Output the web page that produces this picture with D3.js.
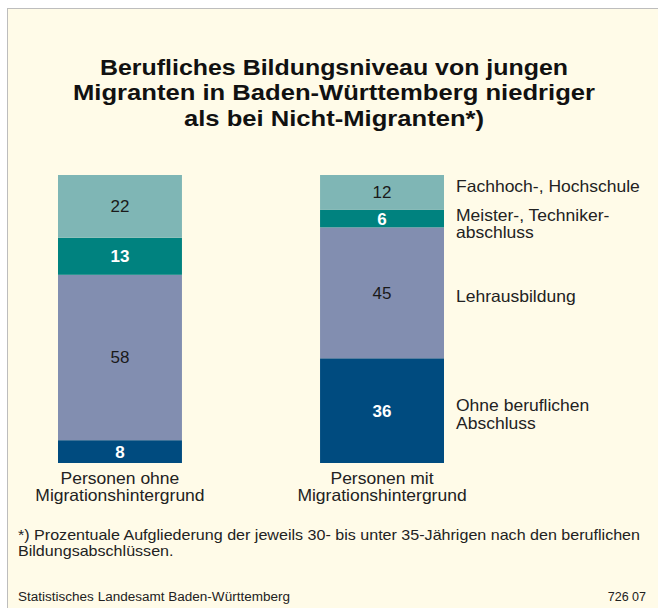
<!DOCTYPE html>
<html>
<head>
<meta charset="utf-8">
<script src="https://cdn.jsdelivr.net/npm/d3@7"></script>
<style>
  html, body { margin: 0; padding: 0; background: #ffffff; }
  svg { display: block; }
  text { font-family: "Liberation Sans", Arial, Helvetica, sans-serif; }
</style>
</head>
<body>
<svg id="chart" width="658" height="608"></svg>
<script>
// ---- data ----
const categories = ["Personen ohne\nMigrationshintergrund", "Personen mit\nMigrationshintergrund"];
const seriesKeys = ["ohne", "lehr", "meister", "fach"]; // bottom to top
const seriesLabels = ["Ohne beruflichen\nAbschluss", "Lehrausbildung", "Meister-, Techniker-\nabschluss", "Fachhoch-, Hochschule"];
const ohneAbschluss = [8, 36];
const lehrausbildung = [58, 45];
const meisterTechniker = [13, 6];
const fachHochschule = [22, 12];
const titleLines = ["Berufliches Bildungsniveau von jungen", "Migranten in Baden-Württemberg niedriger", "als bei Nicht-Migranten*)"];
const footnoteLines = ["*) Prozentuale Aufgliederung der jeweils 30- bis unter 35-Jährigen nach den beruflichen", "Bildungsabschlüssen."];
const sourceText = "Statistisches Landesamt Baden-Württemberg";
const codeText = "726 07";

// ---- style ----
const colors = { ohne: "#004b7f", lehr: "#828eb0", meister: "#00827f", fach: "#7fb6b5" };
const labelBold = { ohne: true, lehr: false, meister: true, fach: false };
const labelFont = 16.5;
const widen = 17.5 / 16.5;

const rows = categories.map((c, i) => ({
  cat: c,
  ohne: ohneAbschluss[i],
  lehr: lehrausbildung[i],
  meister: meisterTechniker[i],
  fach: fachHochschule[i]
}));

const svg = d3.select("#chart");

// background panel with thin grey frame (top & left)
svg.append("rect").attr("x", 8).attr("y", 9).attr("width", 650).attr("height", 599).attr("fill", "#fffbe8");
svg.append("line").attr("x1", 7.5).attr("x2", 7.5).attr("y1", 8).attr("y2", 608).attr("stroke", "#bdbdbd").attr("stroke-width", 1);
svg.append("line").attr("x1", 7).attr("x2", 658).attr("y1", 8.5).attr("y2", 8.5).attr("stroke", "#bdbdbd").attr("stroke-width", 1);

// title
const titleWidths = [468, 522, 300];
const titleY = [75, 100, 126];
titleLines.forEach((t, i) => {
  svg.append("text")
    .attr("x", 334).attr("y", titleY[i])
    .attr("text-anchor", "middle")
    .attr("font-size", 22).attr("font-weight", "bold").attr("fill", "#111")
    .attr("textLength", titleWidths[i]).attr("lengthAdjust", "spacingAndGlyphs")
    .text(t);
});

// scales
const x = d3.scaleBand().domain(categories).range([58, 444]).paddingInner(0.527).paddingOuter(0);
const y = d3.scaleLinear().domain([0, 1]).range([463, 175]);

const stack = d3.stack().keys(seriesKeys).offset(d3.stackOffsetExpand);
const stacked = stack(rows);

const g = svg.append("g");
stacked.forEach(layer => {
  const key = layer.key;
  const lg = g.append("g");
  lg.selectAll("rect").data(layer).join("rect")
    .attr("x", d => x(d.data.cat))
    .attr("width", x.bandwidth())
    .attr("y", d => y(d[1]))
    .attr("height", d => y(d[0]) - y(d[1]))
    .attr("fill", colors[key]);
  lg.selectAll("text").data(layer).join("text")
    .attr("x", d => x(d.data.cat) + x.bandwidth() / 2)
    .attr("y", d => (y(d[0]) + y(d[1])) / 2 + 6)
    .attr("text-anchor", "middle")
    .attr("font-size", 17)
    .attr("font-weight", labelBold[key] ? "bold" : "normal")
    .attr("fill", labelBold[key] ? "#ffffff" : "#1a1a1a")
    .text(d => d.data[key]);
});

// helper: slightly widened glyphs like the reference typeface
function widenText(sel, factor) {
  sel.each(function () {
    const w = this.getComputedTextLength();
    d3.select(this).attr("textLength", w * factor).attr("lengthAdjust", "spacingAndGlyphs");
  });
}

// category labels (one text per line)
categories.forEach(c => {
  const cx = x(c) + x.bandwidth() / 2;
  c.split("\n").forEach((l, i) => {
    const t = svg.append("text")
      .attr("x", cx).attr("y", 484 + i * 17)
      .attr("text-anchor", "middle").attr("font-size", labelFont).attr("fill", "#222")
      .text(l);
    widenText(t, widen);
  });
});

// series labels next to right bar
const lastCat = categories[categories.length - 1];
const labelOffsets = { ohne: 9, lehr: 9, meister: 10.5, fach: -0.5 };
const lineHeights = { ohne: 18, lehr: 18, meister: 17, fach: 18 };
stacked.forEach((layer, k) => {
  const key = layer.key;
  const d = layer[layer.length - 1];
  const mid = (y(d[0]) + y(d[1])) / 2;
  const lines = seriesLabels[k].split("\n");
  const lh = lineHeights[key];
  const startY = mid - (lines.length - 1) * lh / 2 + labelOffsets[key];
  lines.forEach((l, i) => {
    const t = svg.append("text")
      .attr("x", x(lastCat) + x.bandwidth() + 12).attr("y", startY + i * lh)
      .attr("font-size", labelFont).attr("fill", "#222")
      .text(l);
    widenText(t, widen);
  });
});

// footnote (same glyph stretch on both lines)
const fn = footnoteLines.map((l, i) =>
  svg.append("text").attr("x", 18).attr("y", 540 + i * 16)
    .attr("font-size", 14.5).attr("fill", "#222").text(l));
const fnFactor = 622 / fn[0].node().getComputedTextLength();
fn.forEach(t => widenText(t, fnFactor));

// source
svg.append("text").attr("x", 18).attr("y", 601).attr("font-size", 12.5).attr("fill", "#222")
  .attr("textLength", 272).attr("lengthAdjust", "spacingAndGlyphs").text(sourceText);
svg.append("text").attr("x", 646).attr("y", 601).attr("text-anchor", "end").attr("font-size", 12.5).attr("fill", "#222").text(codeText);
</script>
</body>
</html>
